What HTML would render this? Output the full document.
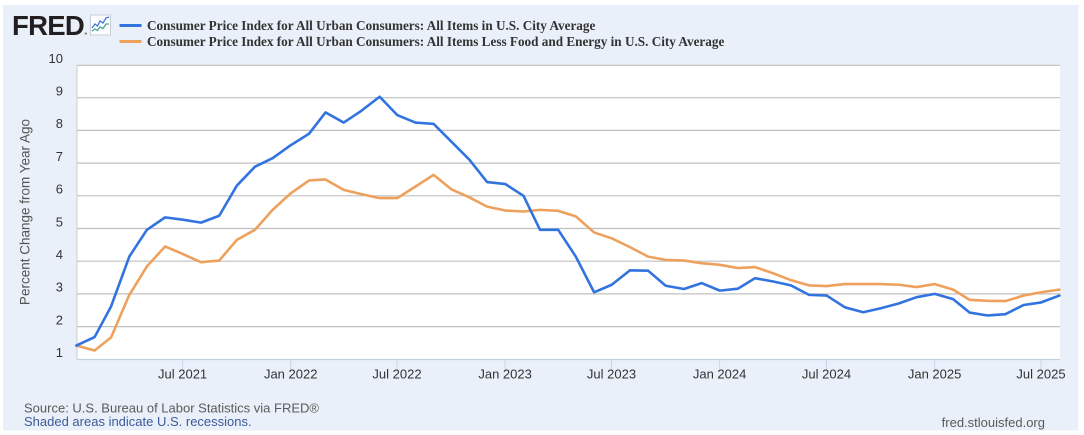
<!DOCTYPE html>
<html>
<head>
<meta charset="utf-8">
<style>
html,body{margin:0;padding:0;background:#fff;}
svg{display:block;}
</style>
</head>
<body>
<svg width="1084" height="435" viewBox="0 0 1084 435" xmlns="http://www.w3.org/2000/svg">
  <rect x="3" y="5" width="1075.5" height="425.5" fill="#eaf0f9"/>

  <!-- FRED logo -->
  <text x="12" y="35" font-family="Liberation Sans, sans-serif" font-weight="bold" font-size="27.5" letter-spacing="-0.7" fill="#231f20">FRED</text>
  <circle cx="85.8" cy="33.6" r="1.2" fill="#888"/>
  <rect x="90.5" y="15" width="20" height="20" fill="#fbfdff" stroke="#c9ccd2" stroke-width="1"/>
  <polyline points="92,28 95,24 97.5,26 100,21 103,23 106,18 109,17" fill="none" stroke="#3c78d8" stroke-width="1.3"/>
  <polyline points="92,31 95,29 97.5,30.5 100,27 103,28.5 106,24 109,24" fill="none" stroke="#4ea58c" stroke-width="1.3"/>

  <!-- Legend -->
  <line x1="119.5" y1="25.5" x2="141.5" y2="25.5" stroke="#3274df" stroke-width="3"/>
  <line x1="119.5" y1="41.5" x2="141.5" y2="41.5" stroke="#eda15d" stroke-width="3"/>
  <text x="147" y="30" font-family="Liberation Serif, serif" font-weight="bold" font-size="13.2" fill="#333">Consumer Price Index for All Urban Consumers: All Items in U.S. City Average</text>
  <text x="147" y="46" font-family="Liberation Serif, serif" font-weight="bold" font-size="13.2" fill="#333">Consumer Price Index for All Urban Consumers: All Items Less Food and Energy in U.S. City Average</text>

  <!-- Plot area -->
  <rect x="77" y="65" width="983" height="294.3" fill="#ffffff"/>
  <g stroke="#c0c0c0" stroke-width="1.2">
    <line x1="77" y1="65.3" x2="1060" y2="65.3"/>
    <line x1="77" y1="97.7" x2="1060" y2="97.7"/>
    <line x1="77" y1="130.4" x2="1060" y2="130.4"/>
    <line x1="77" y1="163.1" x2="1060" y2="163.1"/>
    <line x1="77" y1="195.8" x2="1060" y2="195.8"/>
    <line x1="77" y1="228.5" x2="1060" y2="228.5"/>
    <line x1="77" y1="261.2" x2="1060" y2="261.2"/>
    <line x1="77" y1="293.9" x2="1060" y2="293.9"/>
    <line x1="77" y1="326.6" x2="1060" y2="326.6"/>
  </g>
  <line x1="77" y1="65" x2="77" y2="359.5" stroke="#c8ccd4" stroke-width="1"/>
  <line x1="77" y1="359.5" x2="1060" y2="359.5" stroke="#c4cfe3" stroke-width="1.2"/>

  <!-- x ticks -->
  <g stroke="#ccd6eb" stroke-width="1" transform="translate(-0.8,0)">
    <line x1="183.4" y1="360" x2="183.4" y2="370"/>
    <line x1="291.5" y1="360" x2="291.5" y2="370"/>
    <line x1="397.8" y1="360" x2="397.8" y2="370"/>
    <line x1="505.9" y1="360" x2="505.9" y2="370"/>
    <line x1="612.3" y1="360" x2="612.3" y2="370"/>
    <line x1="720.4" y1="360" x2="720.4" y2="370"/>
    <line x1="827.3" y1="360" x2="827.3" y2="370"/>
    <line x1="935.4" y1="360" x2="935.4" y2="370"/>
    <line x1="1041.8" y1="360" x2="1041.8" y2="370"/>
  </g>

  <!-- x labels -->
  <g font-family="Liberation Sans, sans-serif" font-size="13" fill="#333" text-anchor="middle" transform="translate(-0.8,0)">
    <text x="183.4" y="378.5">Jul 2021</text>
    <text x="291.5" y="378.5">Jan 2022</text>
    <text x="397.8" y="378.5">Jul 2022</text>
    <text x="505.9" y="378.5">Jan 2023</text>
    <text x="612.3" y="378.5">Jul 2023</text>
    <text x="720.4" y="378.5">Jan 2024</text>
    <text x="827.3" y="378.5">Jul 2024</text>
    <text x="935.4" y="378.5">Jan 2025</text>
    <text x="1041.8" y="378.5">Jul 2025</text>
  </g>

  <!-- y labels -->
  <g font-family="Liberation Sans, sans-serif" font-size="13" fill="#333" text-anchor="end">
    <text x="63" y="62.8">10</text>
    <text x="63" y="95.5">9</text>
    <text x="63" y="128.2">8</text>
    <text x="63" y="160.9">7</text>
    <text x="63" y="193.6">6</text>
    <text x="63" y="226.3">5</text>
    <text x="63" y="259">4</text>
    <text x="63" y="291.7">3</text>
    <text x="63" y="324.4">2</text>
    <text x="63" y="357.1">1</text>
  </g>

  <!-- y title -->
  <text transform="translate(29.5,212) rotate(-90)" text-anchor="middle" font-family="Liberation Sans, sans-serif" font-size="13.5" fill="#555">Percent Change from Year Ago</text>

  <!-- series -->
  <g transform="matrix(1,0,0,-32.7,-0.6,392)" fill="none" stroke-linejoin="round" stroke-linecap="round">
    <polyline vector-effect="non-scaling-stroke" stroke="#eda15d" stroke-width="2.6" points="77.0,1.42 95.2,1.27 111.7,1.67 129.9,2.97 147.5,3.84 165.7,4.45 183.4,4.22 201.6,3.97 219.8,4.02 237.4,4.65 255.6,4.96 273.2,5.57 291.5,6.08 309.7,6.47 326.1,6.5 344.3,6.18 362.0,6.05 380.2,5.93 397.8,5.93 416.0,6.28 434.2,6.64 451.9,6.2 470.1,5.95 487.7,5.67 505.9,5.55 524.1,5.52 540.6,5.57 558.8,5.54 576.4,5.37 594.7,4.88 612.3,4.7 630.5,4.43 648.7,4.14 666.3,4.04 684.6,4.02 702.2,3.94 720.4,3.89 738.6,3.79 755.6,3.82 773.9,3.63 791.5,3.42 809.7,3.26 827.3,3.24 845.5,3.3 863.8,3.3 881.4,3.3 899.6,3.28 917.2,3.21 935.4,3.3 953.7,3.13 970.1,2.82 988.3,2.79 1006.0,2.78 1024.2,2.95 1041.8,3.05 1060.0,3.13"/>
    <polyline vector-effect="non-scaling-stroke" stroke="#3274df" stroke-width="2.6" points="77.0,1.42 95.2,1.68 111.7,2.62 129.9,4.14 147.5,4.96 165.7,5.34 183.4,5.27 201.6,5.18 219.8,5.39 237.4,6.31 255.6,6.89 273.2,7.15 291.5,7.55 309.7,7.9 326.1,8.55 344.3,8.24 362.0,8.6 380.2,9.03 397.8,8.47 416.0,8.24 434.2,8.2 451.9,7.66 470.1,7.1 487.7,6.42 505.9,6.36 524.1,6.0 540.6,4.96 558.8,4.96 576.4,4.14 594.7,3.05 612.3,3.28 630.5,3.72 648.7,3.71 666.3,3.25 684.6,3.15 702.2,3.33 720.4,3.1 738.6,3.16 755.6,3.48 773.9,3.38 791.5,3.26 809.7,2.97 827.3,2.95 845.5,2.59 863.8,2.44 881.4,2.56 899.6,2.71 917.2,2.9 935.4,3.0 953.7,2.84 970.1,2.43 988.3,2.34 1006.0,2.38 1024.2,2.66 1041.8,2.74 1060.0,2.95"/>
  </g>

  <!-- footer -->
  <text x="24" y="412.5" font-family="Liberation Sans, sans-serif" font-size="13" fill="#5a5a5a">Source: U.S. Bureau of Labor Statistics via FRED®</text>
  <text x="24" y="426" font-family="Liberation Sans, sans-serif" font-size="13" fill="#3c5a9a">Shaded areas indicate U.S. recessions.</text>
  <text x="1045" y="427" text-anchor="end" font-family="Liberation Sans, sans-serif" font-size="13" fill="#5a5a5a">fred.stlouisfed.org</text>
</svg>
</body>
</html>
